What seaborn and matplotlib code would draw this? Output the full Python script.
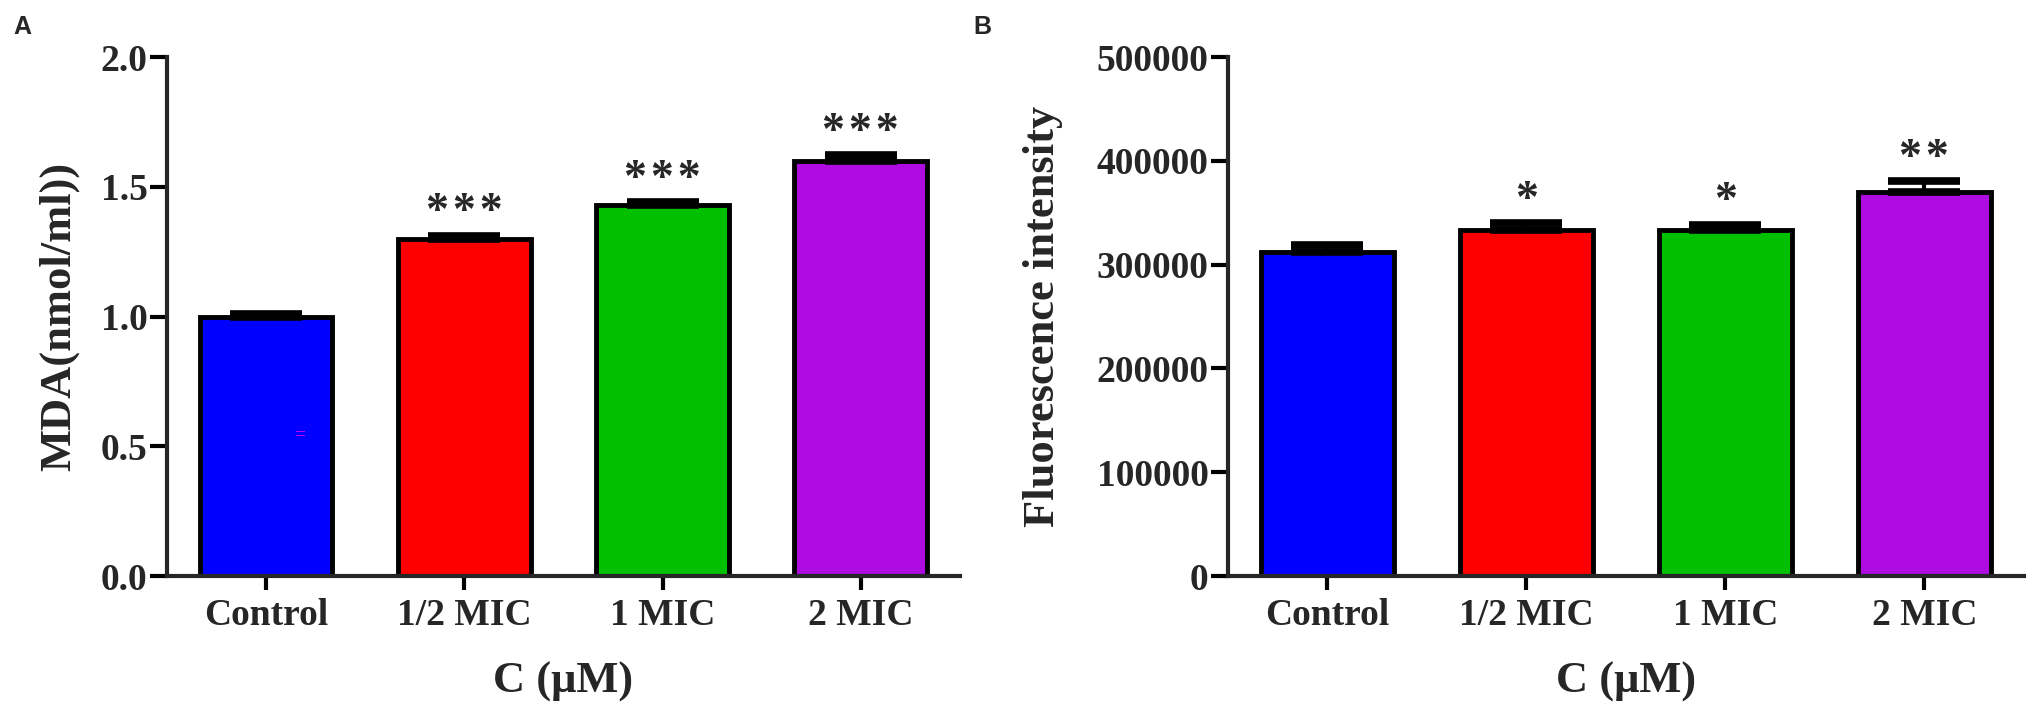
import numpy as np
import pandas as pd
import seaborn as sns
import matplotlib.pyplot as plt

groups = ['Control', '1/2 MIC', '1 MIC', '2 MIC']
colors = ['#0000FF', '#FF0000', '#00C000', '#AD0BE0']

mda = [1.00, 1.30, 1.43, 1.60]
mda_err = [0.010, 0.012, 0.010, 0.023]
mda_stars = ['', '***', '***', '***']

fluo = [312500, 333600, 333600, 370400]
fluo_err = [6250, 6250, 5000, 10000]
fluo_stars = ['', '*', '*', '**']

sns.set_style('ticks')
plt.rcParams['font.family'] = ['Liberation Serif', 'DejaVu Serif']
plt.rcParams['font.weight'] = 'bold'
plt.rcParams['axes.labelweight'] = 'bold'

fig = plt.figure(figsize=(20.33, 7.08), dpi=100)
axA = fig.add_axes([0.0821, 0.1864, 0.3901, 0.733])
axB = fig.add_axes([0.6040, 0.1864, 0.3915, 0.733])


def panel(ax, vals, errs, stars, ylim, yticks, ylabel, ylab_x, fmt):
    df = pd.DataFrame({'group': groups, 'value': vals})
    sns.barplot(data=df, x='group', y='value', hue='group', palette=colors,
                saturation=1, width=0.67, edgecolor='black', linewidth=3.5,
                legend=False, errorbar=None, ax=ax, zorder=2)
    ax.errorbar(range(len(vals)), vals, yerr=[np.zeros(len(vals)), errs],
                fmt='none', ecolor='black', elinewidth=3, capsize=26,
                capthick=5.5, zorder=3)
    for i, s in enumerate(stars):
        if s:
            ax.annotate('\u200a'.join(s), (i, vals[i] + errs[i]),
                        xytext=(0, 8), textcoords='offset points',
                        ha='center', va='baseline', fontsize=33,
                        fontweight='bold')
    ax.set_xlim(-0.5, 3.5)
    ax.set_ylim(*ylim)
    ax.set_yticks(yticks)
    ax.set_yticklabels([fmt.format(t) for t in yticks])
    ax.set_xlabel('C (\u03bcM)', fontsize=32, fontweight='bold')
    ax.set_ylabel(ylabel, fontsize=32, fontweight='bold')
    ax.xaxis.set_label_coords(0.5, -0.165)
    ax.yaxis.set_label_coords(ylab_x, 0.5)
    sns.despine(ax=ax)
    for sp in ['left', 'bottom']:
        ax.spines[sp].set_linewidth(3)
    ax.tick_params(axis='both', width=3, labelsize=27, color='black')
    ax.tick_params(axis='y', length=12, pad=2)
    ax.tick_params(axis='x', length=10, pad=6)
    for lab in ax.get_xticklabels() + ax.get_yticklabels():
        lab.set_fontweight('bold')


panel(axA, mda, mda_err, mda_stars, (0, 2.0), [0.0, 0.5, 1.0, 1.5, 2.0],
      'MDA(nmol/ml))', -0.110, '{:.1f}')
panel(axB, fluo, fluo_err, fluo_stars, (0, 500000),
      [0, 100000, 200000, 300000, 400000, 500000],
      'Fluorescence intensity', -0.207, '{:d}')

# small magenta mark inside the control bar of panel A
axA.text(0.167, 0.545, '=', color='#FF00FF', fontsize=14, ha='center',
         va='center', fontweight='normal', zorder=4)

fig.text(0.0065, 0.945, 'A', fontsize=18, fontweight='bold',
         family='Liberation Sans', va='bottom')
fig.text(0.4786, 0.945, 'B', fontsize=18, fontweight='bold',
         family='Liberation Sans', va='bottom')

fig.savefig('out.png', dpi=100)
